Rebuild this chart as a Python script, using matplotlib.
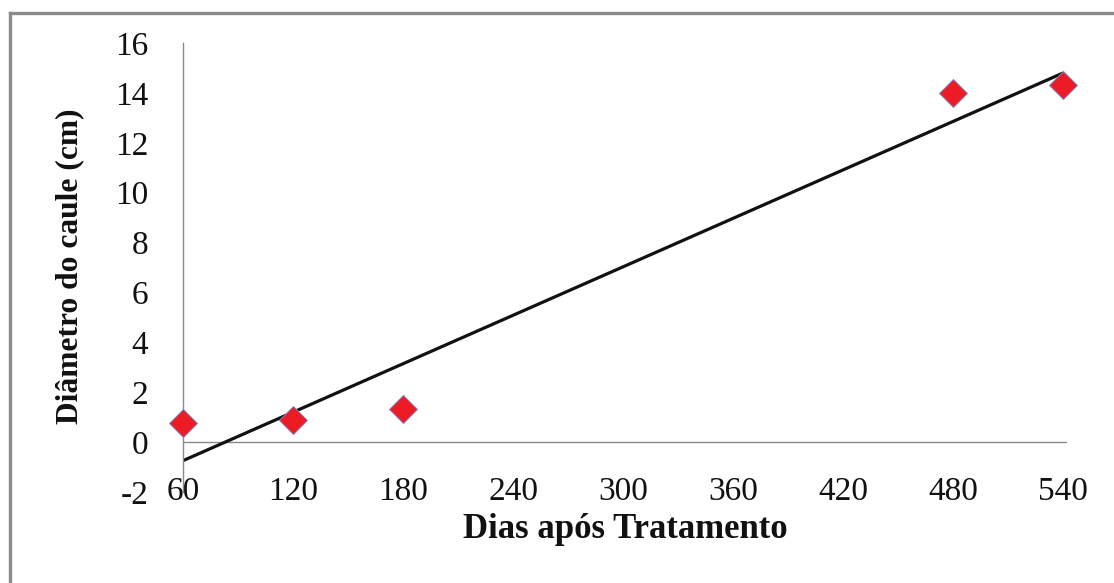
import numpy as np
import matplotlib
matplotlib.use("Agg")
import matplotlib.pyplot as plt
from matplotlib.lines import Line2D

# Data: stem diameter (cm) by days after treatment
dias = [60, 120, 180, 480, 540]
diametro = [0.76, 0.88, 1.32, 14.0, 14.3]
xticks = [60, 120, 180, 240, 300, 360, 420, 480, 540]
yticks = [-2, 0, 2, 4, 6, 8, 10, 12, 14, 16]

W, H = 1114, 583
fig = plt.figure(figsize=(W / 100, H / 100), dpi=100)
plt.rcParams['font.family'] = ['Liberation Serif', 'DejaVu Serif']

ax = fig.add_axes([183 / W, 1 - 492 / H, (1067 - 183) / W, (492 - 43) / H])
ax.set_xlim(60, 542)
ax.set_ylim(-2, 16)

# Linear trend line fitted to the observations
coef = np.polyfit(dias, diametro, 1)
xs = np.array([dias[0], dias[-1]])
ax.plot(xs, np.polyval(coef, xs), color='#111111', lw=2.3, zorder=2,
        solid_capstyle='butt')

ax.plot(dias, diametro, linestyle='none', marker='D', markersize=14,
        markerfacecolor='#ED1C24', markeredgecolor='#7b87c4',
        markeredgewidth=0.7, zorder=3, clip_on=False)

# Axis lines: vertical axis at left, horizontal axis crossing at zero
for s in ['top', 'right', 'bottom']:
    ax.spines[s].set_visible(False)
ax.spines['left'].set_color('#8a8a8a')
ax.spines['left'].set_linewidth(1.0)
ax.axhline(0, color='#8a8a8a', lw=1.0, zorder=1)

ax.set_xticks(xticks)
ax.set_xticklabels([str(v) for v in xticks])
ax.set_yticks(yticks)
ax.set_yticklabels([str(v) for v in yticks])
ax.tick_params(axis='both', length=0, labelsize=24, colors='#111111')
ax.tick_params(axis='y', pad=25)
ax.tick_params(axis='x', pad=0)
for lab in ax.get_xticklabels():
    lab.set_verticalalignment('center')

fig.text(625 / W, 1 - 530 / H, 'Dias após Tratamento', ha='center', va='center',
         fontsize=25, fontweight='bold', color='#111111')
fig.text(70 / W, 1 - 266 / H, 'Diâmetro do caule (cm)', ha='center', va='center',
         rotation=90, fontsize=22.7, fontweight='bold', color='#111111')

# Chart area border (left and top edges)
fx, fy = 9.5 / W, 1 - 12.5 / H
fig.add_artist(Line2D([fx, fx], [0, fy], transform=fig.transFigure,
                      color='#8c8c8c', lw=2.4))
fig.add_artist(Line2D([fx, 1], [fy, fy], transform=fig.transFigure,
                      color='#8c8c8c', lw=2.4))

fig.savefig('out.png', dpi=100, facecolor='white')
